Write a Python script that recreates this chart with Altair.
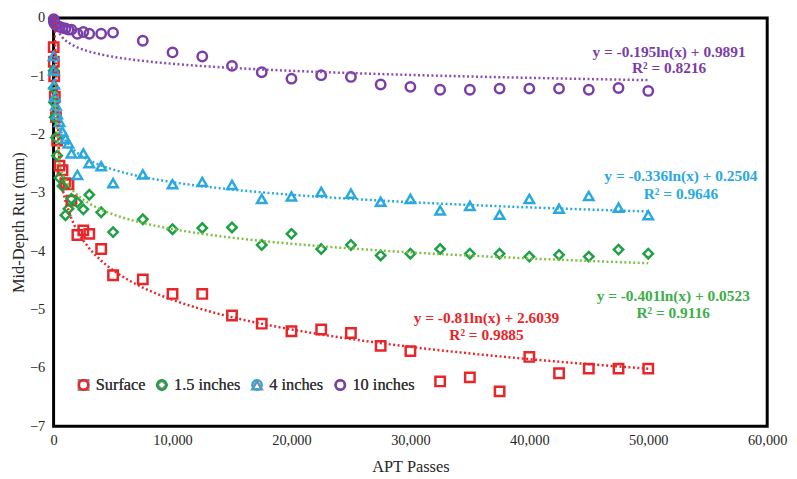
import altair as alt
import pandas as pd

# ---- data ----
passes = [10, 20, 50, 100, 200, 300, 500, 750, 1000, 1250, 1500, 2000, 2500, 3000, 4000, 5000,
          7500, 10000, 12500, 15000, 17500, 20000, 22500, 25000, 27500, 30000, 32500, 35000,
          37500, 40000, 42500, 45000, 47500, 50000]

surface = [-0.50, -0.75, -1.00, -1.35, -1.70, -2.10, -2.53, -2.61, -2.83, -2.85, -3.13, -3.72,
           -3.64, -3.70, -3.96, -4.41,
           -4.48, -4.73, -4.73, -5.10, -5.24, -5.37, -5.34, -5.40, -5.62, -5.71, -6.23, -6.16,
           -6.40, -5.81, -6.09, -6.01, -6.01, -6.01]

inch_1_5 = [-0.90, -1.20, -1.45, -1.70, -2.05, -2.36, -2.74, -2.88, -3.38, -3.27, -3.10, -3.16,
            -3.28, -3.03, -3.33, -3.67,
            -3.45, -3.62, -3.60, -3.59, -3.89, -3.70, -3.96, -3.89, -4.07, -4.04, -3.96, -4.04,
            -4.04, -4.09, -4.06, -4.09, -3.97, -4.04]

inch_4 = [-0.65, -0.90, -1.14, -1.35, -1.50, -1.65, -1.78, -1.95, -2.07, -2.15, -2.32, -2.69,
          -2.32, -2.49, -2.54, -2.83,
          -2.68, -2.85, -2.81, -2.86, -3.10, -3.06, -2.98, -3.01, -3.15, -3.10, -3.30, -3.22,
          -3.37, -3.10, -3.27, -3.05, -3.25, -3.38]

inch_10 = [-0.02, -0.05, -0.08, -0.10, -0.12, -0.14, -0.15, -0.17, -0.18, -0.20, -0.20, -0.27,
           -0.24, -0.27, -0.27, -0.25,
           -0.39, -0.59, -0.66, -0.82, -0.93, -1.04, -0.98, -1.01, -1.14, -1.18, -1.23, -1.23,
           -1.21, -1.21, -1.21, -1.23, -1.20, -1.25]

series_names = ["Surface", "1.5 inches", "4 inches", "10 inches"]
series_values = [surface, inch_1_5, inch_4, inch_10]

x_ticks = [0, 10000, 20000, 30000, 40000, 50000, 60000]
y_ticks = [0, -1, -2, -3, -4, -5, -6, -7]

eq_lines = [
    "y = -0.81ln(x) + 2.6039", "R\u00b2 = 0.9885",
    "y = -0.401ln(x) + 0.0523", "R\u00b2 = 0.9116",
    "y = -0.336ln(x) + 0.2504", "R\u00b2 = 0.9646",
    "y = -0.195ln(x) + 0.9891", "R\u00b2 = 0.8216",
]
eq_series = ["Surface", "Surface", "1.5 inches", "1.5 inches",
             "4 inches", "4 inches", "10 inches", "10 inches"]

# ---- styling ----
point_colors = ["#E8262A", "#1FA045", "#29A9E0", "#7A3EA6"]
trend_colors = ["#E8262A", "#7DC143", "#29A9E0", "#8A4CB5"]
text_colors = ["#E8262A", "#3DAE49", "#29A9E0", "#7A3EA6"]
shapes = ["square", "diamond", "triangle-up", "circle"]
# annotation anchors (data space)
eq_x = [36400, 36400, 52100, 52100, 52750, 52750, 51750, 51750]
eq_y = [-5.15, -5.43, -4.76, -5.06, -2.71, -3.01, -0.59, -0.86]

FONT = "Liberation Serif"

rows = []
for name, vals in zip(series_names, series_values):
    for p, v in zip(passes, vals):
        rows.append({"passes": p, "rut": v, "series": name})
df = pd.DataFrame(rows)

color_map = dict(zip(series_names, text_colors))
eq_df = pd.DataFrame({
    "passes": eq_x, "rut": eq_y, "label": eq_lines,
    "color": [color_map[s] for s in eq_series],
})

x_scale = alt.Scale(domain=[0, 60000], nice=False, zero=False)
y_scale = alt.Scale(domain=[-7, 0], nice=False, zero=False)
x_axis = alt.Axis(values=x_ticks, format=",d", title="APT Passes", ticks=False, tickSize=0,
                  domain=False, grid=False, labelFlush=False,
                  labelPadding=7, titlePadding=12)
y_axis = alt.Axis(values=y_ticks, format="d", title="Mid-Depth Rut (mm)", ticks=False,
                  tickSize=0, domain=False, grid=False, labelFlush=False,
                  labelPadding=9, titlePadding=3)

x_enc = alt.X("passes:Q", scale=x_scale, axis=x_axis)
y_enc = alt.Y("rut:Q", scale=y_scale, axis=y_axis)

legend = alt.Legend(title=None, orient="none", legendX=22, legendY=362,
                    direction="horizontal", columns=4, columnPadding=6,
                    labelOffset=4, symbolSize=90, symbolStrokeWidth=2.5,
                    labelFont=FONT, labelFontSize=16.5, labelColor="#333333",
                    padding=0)

base = alt.Chart(df)

points = base.mark_point(filled=False, strokeWidth=2.5, size=90, opacity=1).encode(
    x=x_enc, y=y_enc,
    color=alt.Color("series:N", sort=series_names,
                    scale=alt.Scale(domain=series_names, range=point_colors),
                    legend=legend),
    shape=alt.Shape("series:N", sort=series_names,
                    scale=alt.Scale(domain=series_names, range=shapes),
                    legend=legend),
)

trend = base.transform_regression(
    "passes", "rut", method="log", groupby=["series"], extent=[10, 50000]
).mark_line(strokeDash=[2, 2.5], strokeWidth=2.5, clip=True).encode(
    x=x_enc, y=y_enc,
    color=alt.Color("series:N",
                    scale=alt.Scale(domain=series_names, range=trend_colors),
                    legend=None),
    detail="series:N",
)

eqs = alt.Chart(eq_df).mark_text(font=FONT, fontSize=15.5, fontWeight="bold",
                                 align="center", baseline="middle").encode(
    x=x_enc, y=y_enc, text="label:N",
    color=alt.Color("color:N", scale=None),
)

chart = alt.layer(points, trend, eqs).resolve_scale(color="independent").properties(
    width=720, height=412,
    padding={"left": 46, "top": 8, "right": 22, "bottom": 48},
    autosize=alt.AutoSizeParams(type="none"),
    background="white",
).configure_view(
    stroke="black", strokeWidth=3
).configure_axis(
    labelFont=FONT, labelFontSize=14.5, labelColor="#262626",
    titleFont=FONT, titleFontSize=16.5, titleColor="#262626", titleFontWeight="normal",
)

chart.save("out.html", embed_options={"renderer": "svg", "actions": False})
